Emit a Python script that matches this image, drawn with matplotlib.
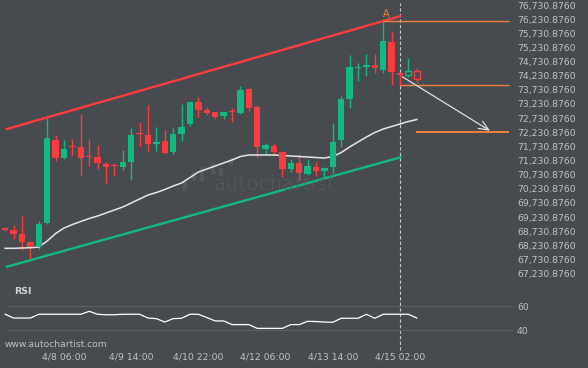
import numpy as np
import matplotlib.pyplot as plt
from matplotlib.patches import Rectangle

# 4h candles, index 0..49 (47 = 4/15 02:00, 48-49 still forming)
opens = [68850, 68775, 68634, 68340, 68163, 69033, 71957, 71331, 71728, 71721,
         71374, 71356, 71119, 71063, 71013, 71190, 72187, 72134, 71816, 71922,
         71533, 72170, 72523, 73312, 73018, 72937, 72817, 72969, 72923, 73750,
         73124, 71639, 71745, 71533, 70932, 71155, 70755, 70992, 70872, 71003,
         71940, 73418, 74486, 74528, 74609, 74433, 75423, 74337, 74245, 74408]
highs = [68870, 68952, 69270, 68350, 69083, 72725, 72134, 71957, 71982, 72866,
         71982, 71770, 71190, 71134, 71604, 72371, 72583, 73184, 72428, 72311,
         72392, 73230, 73347, 73488, 73135, 72947, 72947, 73078, 73867, 73796,
         73184, 71841, 71841, 71579, 71275, 71480, 71296, 71162, 71020, 72548,
         73524, 74963, 74670, 74988, 74988, 76150, 75766, 74344, 74846, 74493]
lows = [68750, 68446, 68068, 67739, 68103, 68987, 71225, 71286, 71427, 70695,
        71038, 70921, 70447, 70684, 70897, 70543, 71756, 71579, 71579, 71480,
        71462, 71911, 72435, 72781, 72841, 72700, 72700, 72583, 72866, 72983,
        71367, 71462, 71427, 70649, 70837, 70525, 70720, 70684, 70614, 70780,
        71721, 73078, 74044, 74231, 74344, 74316, 73902, 73892, 74174, 73962]
closes = [68780, 68644, 68361, 68184, 68987, 72039, 71331, 71639, 71710, 71331,
          71360, 71155, 71013, 71045, 71169, 72134, 72152, 71816, 71876, 71498,
          72170, 72428, 73312, 73018, 72923, 72781, 72937, 72951, 73725, 73100,
          71720, 71770, 71544, 70943, 71155, 70801, 71038, 70872, 70957, 71876,
          73407, 74549, 74500, 74609, 74514, 75458, 74369, 74245, 74415, 74104]
ma = [68128, 68128, 68139, 68146, 68174, 68386, 68651, 68846, 68969, 69076,
      69182, 69270, 69376, 69482, 69588, 69730, 69871, 70013, 70101, 70207,
      70331, 70437, 70631, 70826, 70932, 71038, 71144, 71250, 71374, 71427,
      71427, 71427, 71427, 71409, 71392, 71374, 71356, 71339, 71321, 71374,
      71515, 71710, 71887, 72063, 72223, 72346, 72435, 72523, 72612, 72682]
rsi = [53.2, 50.1, 50.1, 50.1, 53.2, 53.2, 53.2, 53.2, 53.2, 53.2,
       55.6, 53.2, 52.8, 52.8, 53.2, 53.2, 53.2, 50.1, 49.6, 46.8,
       49.6, 49.9, 53.2, 53.2, 50.5, 47.7, 47.7, 44.7, 44.7, 44.7,
       41.6, 41.6, 41.6, 41.6, 44.7, 44.7, 47.4, 47.2, 46.8, 46.6,
       49.9, 49.9, 49.9, 53.2, 49.9, 53.2, 53.2, 53.2, 53.2, 50.1]
n_closed = 48

# channel (upper resistance / lower support)
upper_x, upper_y = [0.2, 47.0], [72346, 76335]
lower_x, lower_y = [0.2, 47.08], [67477, 71346]

# pattern levels
a_idx, a_level = 45, 76150
level_2 = 73892
target = 72230.876
arrow_from = (47, 74245)
arrow_to = (58, target)

price_ticks = np.arange(67230.876, 76731, 500)
date_idx = [7, 15, 23, 31, 39, 47]
date_labels = ["4/8 06:00", "4/9 14:00", "4/10 22:00", "4/12 06:00", "4/13 14:00", "4/15 02:00"]

bg = '#474b50'
up = '#14b982'
down = '#fc3b3e'
orange = '#f0803a'
txt = '#bfc2c6'
plt.rcParams['font.family'] = 'DejaVu Sans'

fig = plt.figure(figsize=(5.88, 3.68), dpi=100, facecolor=bg)
W, H = 588, 368
xl = (-0.619, 60.45)
axw = 513 / W

ax_full = fig.add_axes([0, 0, axw, 1], facecolor='none')
ax_full.set_zorder(0)
ax_full.set_xlim(*xl)
ax_full.axis('off')
ax_full.axvline(47, ymin=(H - 350) / H, ymax=(H - 3) / H, color='#c8c8c8',
                lw=0.8, dashes=(3, 2))

ax = fig.add_axes([0, (H - 285) / H, axw, 285 / H], facecolor='none')
ax.set_zorder(1)
ax.set_xlim(*xl)
ax.set_ylim(66830, 76908)

fig.text(274 / W, 1 - 185 / H, 'autochartist', color='#575b61', fontsize=14.5,
         ha='center', va='center', fontweight='light')
for bx, by, bh in [(183, 182, 8), (192, 172, 8), (200, 167, 13), (211, 163, 10),
                   (219, 168, 7), (229, 158, 7)]:
    fig.patches.append(Rectangle((bx / W, 1 - (by + bh) / H), 3 / W, bh / H,
                                 transform=fig.transFigure, color='#54585e', zorder=0))

x = np.arange(len(opens))
o, h, l, c = map(np.array, (opens, highs, lows, closes))
col = np.where(c >= o, up, down)
ax.vlines(x, l, h, colors=col, lw=1, zorder=2)
bottom = np.minimum(o, c)
height = np.maximum(np.abs(c - o), 40)
closed = x < n_closed
ax.bar(x[closed], height[closed], bottom=bottom[closed], width=0.78,
       color=col[closed], lw=0, zorder=3)
ax.bar(x[~closed], height[~closed], bottom=bottom[~closed], width=0.7,
       facecolor=bg, edgecolor=col[~closed], lw=1, zorder=3)

ax.plot(x[:len(ma)], ma, color='#e6e6e6', lw=1.1, zorder=2)
ax.plot(upper_x, upper_y, color=down, lw=1.7, zorder=4)
ax.plot(lower_x, lower_y, color=up, lw=1.7, zorder=4)

ax.hlines(a_level, a_idx, 60, color=orange, lw=1, zorder=4)
ax.hlines(level_2, 47, 60, color=orange, lw=1, zorder=4)
ax.hlines(target, 48.9, 60, color=orange, lw=1.4, zorder=4)
ax.annotate('A', (a_idx, a_level), xytext=(2.5, 1.5), textcoords='offset points',
            color=orange, fontsize=7, ha='center', va='bottom')
ax.annotate('', xy=arrow_to, xytext=arrow_from,
            arrowprops=dict(arrowstyle='->,head_length=0.7,head_width=0.3',
                            color='#e0e0e0', lw=0.9), zorder=5)

ax.yaxis.tick_right()
ax.set_yticks(price_ticks)
ax.set_yticklabels([f"{v:,.4f}" for v in price_ticks])
ax.tick_params(axis='y', length=0, pad=2.9, labelsize=6.7, labelcolor=txt)
ax.set_xticks([])
for s in ax.spines.values():
    s.set_visible(False)

# RSI panel
ax2 = fig.add_axes([0, (H - 340) / H, axw, 44 / H], facecolor='none')
ax2.set_zorder(1)
ax2.set_xlim(*xl)
ax2.set_ylim(32.02, 68.23)
ax2.hlines([40, 60], 0.2, xl[1], color='#5c6065', lw=0.8)
ax2.plot(x[:len(rsi)], rsi, color='white', lw=0.9)
ax2.yaxis.tick_right()
ax2.set_yticks([40, 60])
ax2.set_yticklabels(['40', '60'])
ax2.tick_params(axis='y', length=0, pad=2.9, labelsize=6.7, labelcolor=txt)
ax2.set_xticks(date_idx)
ax2.set_xticklabels(date_labels)
ax2.tick_params(axis='x', length=0, pad=9, labelsize=6.7, labelcolor=txt)
for s in ax2.spines.values():
    s.set_visible(False)

fig.text(14 / W, 1 - 291 / H, 'RSI', color='#d0d2d4', fontsize=6.8,
         fontweight='bold', ha='left', va='center')
fig.text(5 / W, 1 - 344.5 / H, 'www.autochartist.com', color=txt, fontsize=6.6,
         ha='left', va='center')

fig.savefig('out.png', dpi=100, facecolor=bg)
